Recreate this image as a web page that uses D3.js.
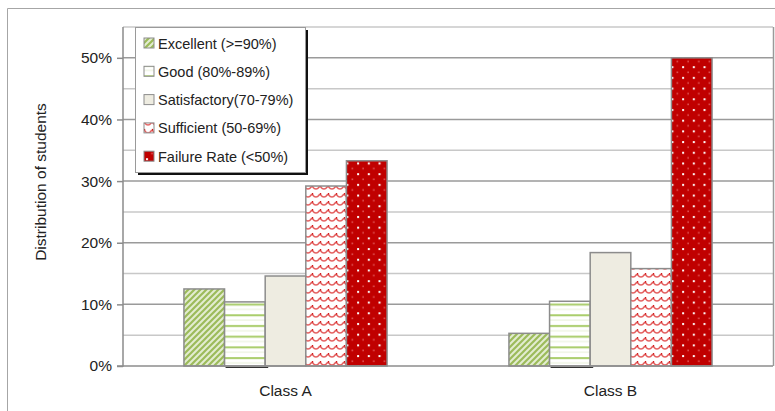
<!DOCTYPE html>
<html><head><meta charset="utf-8">
<script src="https://cdn.jsdelivr.net/npm/d3@7"></script>
<style>html,body{margin:0;padding:0;background:#fff;} svg{display:block;font-family:"Liberation Sans", Arial, sans-serif;}</style>
</head><body><div id="chart"></div>
<script>
const categories = ["Class A", "Class B"];
const seriesNames = ["Excellent (>=90%)", "Good (80%-89%)", "Satisfactory(70-79%)", "Sufficient (50-69%)", "Failure Rate (<50%)"];
const excellent = [0.125, 0.053];
const good = [0.104, 0.105];
const satisfactory = [0.146, 0.184];
const sufficient = [0.292, 0.158];
const failure = [0.333, 0.500];
const yTicks = [0, 0.1, 0.2, 0.3, 0.4, 0.5];
const yMinor = [0.05, 0.15, 0.25, 0.35, 0.45, 0.55];
const yLabel = "Distribution of students";

const series = [excellent, good, satisfactory, sufficient, failure];
const W = 775, H = 411;
const m = {left: 123, right: 2, top: 27, bottom: 45};
const svg = d3.select("#chart").append("svg").attr("width", W).attr("height", H);
const defs = svg.append("defs");

// patterns
const p1 = defs.append("pattern").attr("id","pat0").attr("patternUnits","userSpaceOnUse").attr("width",6).attr("height",6);
p1.append("rect").attr("width",6).attr("height",6).attr("fill","#e4edd2");
p1.append("path").attr("d","M-1,1 L1,-1 M0,6 L6,0 M5,7 L7,5").attr("stroke","#9bbb59").attr("stroke-width",2.2);
const p2 = defs.append("pattern").attr("id","pat1").attr("patternUnits","userSpaceOnUse").attr("width",8).attr("height",10.7);
p2.append("rect").attr("width",8).attr("height",10.7).attr("fill","#fff");
p2.append("rect").attr("y",4).attr("width",8).attr("height",2).attr("fill","#a9cd6a");
p2.append("rect").attr("y",9.3).attr("width",8).attr("height",1).attr("fill","#e8f1d8");
const p3 = defs.append("pattern").attr("id","pat2").attr("patternUnits","userSpaceOnUse").attr("width",8).attr("height",8);
p3.append("rect").attr("width",8).attr("height",8).attr("fill","#eeece1");
const p4 = defs.append("pattern").attr("id","pat3").attr("patternUnits","userSpaceOnUse").attr("width",8).attr("height",8);
p4.append("rect").attr("width",8).attr("height",8).attr("fill","#fff");
p4.append("path").attr("d","M0,2 Q4,8 8,2").attr("fill","none").attr("stroke","#e35b5b").attr("stroke-width",1.4);
p4.append("rect").attr("x",0).attr("y",1).attr("width",1.2).attr("height",1.5).attr("fill","#d01010");
const p5 = defs.append("pattern").attr("id","pat4").attr("patternUnits","userSpaceOnUse").attr("width",10.7).attr("height",10.7);
p5.append("rect").attr("width",10.7).attr("height",10.7).attr("fill","#c00000");
p5.append("rect").attr("x",2).attr("y",2).attr("width",2).attr("height",2).attr("fill","#fff");
p5.append("rect").attr("x",7.3).attr("y",7.3).attr("width",1.3).attr("height",1.6).attr("fill","#e86a6a");

// outer border
svg.append("path").attr("d","M7.5,411 L7.5,8.5 L775,8.5").attr("fill","none").attr("stroke","#a6a6a6").attr("stroke-width",1);

const x0 = d3.scaleBand().domain(categories).range([m.left, W - m.right]).paddingInner(0.375).paddingOuter(0.1875);
const x1 = d3.scaleBand().domain(d3.range(series.length)).range([0, x0.bandwidth()]);
const y = d3.scaleLinear().domain([0, 0.55]).range([H - m.bottom, m.top]);

// gridlines
svg.append("g").selectAll("line.minor").data(yMinor).join("line")
  .attr("x1", m.left).attr("x2", W - m.right).attr("y1", d => y(d)).attr("y2", d => y(d))
  .attr("stroke", "#c8c8c8").attr("stroke-width", 1.5);
svg.append("g").selectAll("line.major").data(yTicks.slice(1)).join("line")
  .attr("x1", m.left).attr("x2", W - m.right).attr("y1", d => y(d)).attr("y2", d => y(d))
  .attr("stroke", "#9a9a9a").attr("stroke-width", 1.5);
// plot right border
svg.append("line").attr("x1", W - m.right + 0.5).attr("x2", W - m.right + 0.5).attr("y1", y(0.55)).attr("y2", y(0))
  .attr("stroke","#9a9a9a").attr("stroke-width",1.5);

// bars
const groups = svg.append("g").selectAll("g").data(categories).join("g")
  .attr("transform", d => `translate(${x0(d)},0)`);
groups.selectAll("rect").data((c, ci) => series.map((s, si) => ({si, v: s[ci]}))).join("rect")
  .attr("x", d => x1(d.si)).attr("width", x1.bandwidth())
  .attr("y", d => y(d.v)).attr("height", d => y(0) - y(d.v))
  .attr("fill", d => `url(#pat${d.si})`).attr("stroke", "#8c8c8c").attr("stroke-width", 1.5);
groups.append("line").attr("x1", x1(1) + 1).attr("x2", x1(1) + x1.bandwidth() + 3)
  .attr("y1", y(0) + 1.5).attr("y2", y(0) + 1.5).attr("stroke", "#333").attr("stroke-width", 1.2);

// y axis
const yAxis = svg.append("g").attr("transform", `translate(${m.left},0)`)
  .call(d3.axisLeft(y).tickValues(yTicks).tickFormat(d3.format(".0%")).tickSize(6).tickPadding(5));
yAxis.select(".domain").attr("stroke", "#8c8c8c").attr("stroke-width", 1.5).attr("d", `M-6,${y(0)}H0V${y(0.55)}`);
yAxis.selectAll(".tick line").attr("stroke", "#8c8c8c").attr("stroke-width", 1.5);
yAxis.selectAll(".tick text").attr("font-size", 15.5).attr("fill", "#222").attr("font-family", "'Liberation Sans', Arial, sans-serif");
// baseline
svg.append("line").attr("x1", m.left).attr("x2", W - m.right).attr("y1", y(0)).attr("y2", y(0))
  .attr("stroke", "#8c8c8c").attr("stroke-width", 1.5);

// x labels
svg.append("g").selectAll("text").data(categories).join("text")
  .attr("x", d => x0(d) + x0.bandwidth() / 2).attr("y", 396)
  .attr("text-anchor", "middle").attr("font-size", 15.5).attr("fill", "#222").text(d => d);

// y label
svg.append("text").attr("transform", "translate(46,182) rotate(-90)")
  .attr("text-anchor", "middle").attr("font-size", 15.5).attr("fill", "#222").text(yLabel);

// legend
const lg = svg.append("g").attr("transform", "translate(135,27)");
lg.append("rect").attr("x", 3).attr("y", 3).attr("width", 170).attr("height", 145).attr("fill", "#111");
lg.append("rect").attr("x", 0.5).attr("y", 0.5).attr("width", 170).attr("height", 145).attr("fill", "#fff").attr("stroke", "#9a9a9a").attr("stroke-width", 1);
const items = lg.selectAll("g.item").data(seriesNames).join("g").attr("transform", (d, i) => `translate(9,${16 + i * 28.3})`);
items.append("rect").attr("x", 0).attr("y", -5).attr("width", 10).attr("height", 10)
  .attr("fill", (d, i) => `url(#pat${i})`).attr("stroke", "#8c8c8c").attr("stroke-width", 1);
items.append("text").attr("x", 14).attr("y", 5.5).attr("font-size", 14.5).attr("fill", "#222").text(d => d);
</script></body></html>
